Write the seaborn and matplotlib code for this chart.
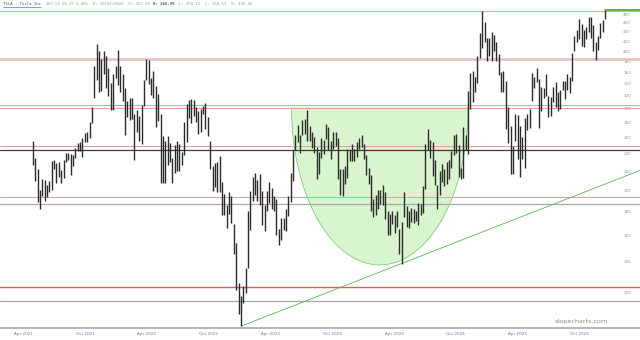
import matplotlib
matplotlib.use('Agg')
import matplotlib.pyplot as plt
import matplotlib.dates as mdates
import seaborn as sns
import numpy as np
import pandas as pd

# ---------------- data (weekly ranges) ----------------
first_week = '2021-04-26'
week_high = [
    # 2021 (from Apr 26)
    255, 235, 222, 200, 212, 211, 205, 209, 231, 233, 229, 230, 221, 233, 241, 241, 240, 239,
    247, 253, 254, 259, 266, 268, 281, 303, 372, 414.5, 400, 385, 400, 391, 367, 342, 357, 372,
    # 2022
    403, 371, 357, 333, 312, 316, 316, 292, 298, 289, 306, 347, 384, 383, 350, 362, 336, 323,
    293, 262, 255, 262, 253, 235, 250, 255, 252, 242, 281, 307, 313, 315, 314, 302, 297, 300,
    305, 309, 288, 255, 226, 229, 230, 237, 208, 196, 186, 198, 194, 169, 154, 126,
    # 2023
    118, 124, 136, 180, 199, 214, 218, 211, 217, 199, 186, 199, 208, 202, 194, 192, 165, 174,
    174, 182, 194, 218, 245, 263, 277, 264, 284, 285, 299, 276, 267, 261, 248, 242, 260, 257,
    278, 274, 255, 268, 268, 259, 222, 222, 226, 246, 244, 252, 246, 254, 259, 264,
    # 2024
    252, 238, 223, 216, 192, 195, 200, 200, 205, 198, 180, 178, 180, 177, 180, 165, 171, 198,
    185, 180, 183, 182, 180, 188, 187, 204, 252, 271, 257, 254, 233, 205, 220, 228, 222, 230,
    232, 243, 263, 265, 250, 223, 274, 263, 328, 358, 362, 352, 390, 437, 488.5, 462, 427,
    # 2025
    426, 440, 433, 419, 394, 361, 362, 345, 303, 275, 249, 292, 291, 275, 261, 287, 293, 300,
    359, 351, 367, 348, 335, 332, 356, 319, 318, 335, 343, 326, 330, 345, 345, 357, 352, 396,
    430, 445, 470, 457, 445, 450, 474, 474, 455, 418, 432, 460, 467, 491,
]
week_low = [
    # 2021
    227, 209, 189, 182, 194, 190, 193, 198, 200, 222, 207, 214, 207, 213, 230, 233, 216, 226,
    235, 243, 243, 236, 254, 254, 260, 280, 317, 347, 326, 328, 357, 333, 319, 299, 298, 350,
    # 2022
    337, 327, 312, 264, 288, 284, 285, 233, 267, 255, 252, 305, 347, 340, 321, 317, 274, 283,
    207, 207, 207, 227, 230, 207, 218, 220, 220, 227, 239, 254, 287, 280, 290, 281, 265, 268,
    292, 272, 262, 222, 199, 203, 198, 198, 177, 177, 166, 178, 170, 146, 122, 108,
    # 2023
    101.8, 114, 120, 136, 164, 190, 195, 190, 186, 168, 163, 180, 188, 182, 180, 160, 152, 156,
    164, 163, 176, 189, 210, 244, 254, 241, 264, 265, 255, 255, 247, 241, 212, 217, 235, 240,
    258, 244, 234, 246, 249, 212, 195, 194, 206, 213, 231, 231, 231, 236, 246, 248,
    # 2024
    234, 216, 206, 180, 175, 177, 182, 187, 186, 173, 160, 160, 169, 162, 167, 146, 138.8, 175,
    167, 166, 171, 170, 172, 168, 177, 179, 201, 244, 235, 215, 205, 182, 195, 208, 204, 206,
    212, 224, 238, 241, 214, 212, 213, 245, 240, 300, 311, 326, 342, 386, 406, 418, 380,
    # 2025
    390, 380, 400, 380, 355, 326, 326, 272, 253, 217, 217, 256, 234, 214, 234, 223, 270, 273,
    312, 332, 343, 273, 297, 316, 320, 288, 290, 310, 302, 297, 300, 329, 315, 330, 325, 344,
    400, 419, 425, 411, 408, 425, 439, 427, 400, 382, 403, 426, 439, 470,
]
last_close = 489.88

# horizontal levels (prices)
red_levels = [488.5, 305.7, 301.6, 249.6, 193.5]
band_levels = [385.0]
strong_red_levels = [123.6]
dark_levels = [244.0]
gray_levels = [186.8, 115.3]

# trend line anchors (two lows)
trend_dates = ['2023-01-06', '2024-04-22']
trend_prices = [101.81, 138.80]

# cup annotation
cup_left, cup_right = '2023-06-03', '2024-11-06'
cup_top, cup_bottom = 301.0, 138.0

y_ticks = list(range(120, 481, 20))
x_tick_dates = ['2021-04-01', '2021-10-01', '2022-04-01', '2022-10-01', '2023-04-01',
                '2023-10-01', '2024-04-01', '2024-10-01', '2025-04-01', '2025-10-01']

# ---------------- drawing ----------------
sns.set_theme(style='white')
plt.rcParams['font.family'] = ['DejaVu Sans']

fig = plt.figure(figsize=(6.4, 3.4), dpi=100)
fig.patch.set_facecolor('white')
ax = fig.add_axes([0, 12 / 340, 1, 320 / 340])
ax.set_facecolor('white')

dates = pd.date_range(first_week, periods=len(week_high), freq='7D') + pd.Timedelta(days=2)
df = pd.DataFrame({'date': dates, 'high': week_high, 'low': week_low})

ax.set_yscale('log')
ax.vlines(df['date'], df['low'], df['high'], color='#2b2b2b', lw=1.0, zorder=4)

xmin = mdates.date2num(pd.Timestamp('2021-01-21'))
xmax = mdates.date2num(pd.Timestamp('2026-03-30'))

# cup (half ellipse in log space)
c0 = mdates.date2num(pd.Timestamp(cup_left))
c1 = mdates.date2num(pd.Timestamp(cup_right))
t = np.linspace(np.pi, 2 * np.pi, 300)
xc = (c0 + c1) / 2 + (c1 - c0) / 2 * np.cos(t)
lt, lb = np.log10(cup_top), np.log10(cup_bottom)
yc = 10 ** (lt + (lt - lb) * np.sin(t))
ax.fill(np.r_[xc, xc[0]], np.r_[yc, yc[0]], facecolor='#d8f5cf', edgecolor='#7ccf74',
        lw=0.6, zorder=1)

# levels
for p in red_levels:
    ax.axhline(p, color='#e8a0a0', lw=0.75, zorder=2)
for p in band_levels:
    ax.axhline(p, color='#e6c0c4', lw=1.9, zorder=2)
for p in strong_red_levels:
    ax.axhline(p, color='#e45a5a', lw=1.0, zorder=2)
for p in dark_levels:
    ax.axhline(p, color='#3a3a3a', lw=0.9, zorder=2)
for p in gray_levels:
    ax.axhline(p, color='#a8a8a8', lw=0.9, zorder=2)

# trend line from the low to the right edge
td = [mdates.date2num(pd.Timestamp(d)) for d in trend_dates]
slope = (np.log(trend_prices[1]) - np.log(trend_prices[0])) / (td[1] - td[0])
end_price = trend_prices[0] * np.exp(slope * (xmax - td[0]))
sns.lineplot(x=[td[0], xmax], y=[trend_prices[0], end_price], ax=ax, color='#5fb35a',
             lw=0.6, zorder=3)

# last price line
ax.plot([mdates.date2num(dates[-1]), xmax], [last_close, last_close], color='#6aaa3a',
        lw=1.4, zorder=5)

ax.set_xlim(xmin, xmax)
ax.set_ylim(100.8, 495.5)

# y axis on right, labels inside
ax.yaxis.tick_right()
ax.yaxis.set_major_locator(matplotlib.ticker.FixedLocator(y_ticks))
ax.yaxis.set_minor_locator(matplotlib.ticker.NullLocator())
ax.set_yticklabels([str(v) for v in y_ticks])
ax.tick_params(axis='y', length=0, pad=-12, labelsize=3, labelcolor='#999999')

xt = [mdates.date2num(pd.Timestamp(d)) for d in x_tick_dates]
ax.set_xticks(xt)
ax.set_xticklabels([pd.Timestamp(d).strftime('%b %Y') for d in x_tick_dates])
ax.tick_params(axis='x', length=0, pad=3, labelsize=3, labelcolor='#6d78a8')

for s in ['top', 'left', 'right']:
    ax.spines[s].set_visible(False)
ax.spines['bottom'].set_color('#b0b0b0')
ax.spines['bottom'].set_linewidth(1.3)
ax.grid(False)
ax.set_xlabel('')
ax.set_ylabel('')

# watermark
ax.text(0.95, 0.012, 'slopecharts.com', transform=ax.transAxes, ha='right', va='bottom',
        fontsize=4.6, color='#8a8a8a', zorder=6)

# header
segments = [
    ('TSLA - Tesla Inc', '#3a4fb0', 'normal'),
    ('  487.55 ', '#9a9a9a', 'normal'),
    ('20.37 4.46%', '#6db36a', 'normal'),
    ('  D: 10/04/2022  O: 263.50 ', '#9a9a9a', 'normal'),
    ('H: 268.99', '#555555', 'bold'),
    ('  L: 258.72  C: 260.51  V: 496.45', '#9a9a9a', 'normal'),
]
renderer = fig.canvas.get_renderer()
xpos = 3 / 640
ypos = 1 - 4 / 340
for i, (txt, col, wt) in enumerate(segments):
    tt = fig.text(xpos, ypos, txt, fontsize=2.9, color=col, fontweight=wt,
                  family='DejaVu Sans Mono', ha='left', va='center')
    bb = tt.get_window_extent(renderer=renderer)
    if i == 0:
        fig.add_artist(plt.Line2D([xpos, xpos + bb.width / 640], [ypos - 2.6 / 340] * 2,
                                  color=col, lw=0.4))
    xpos += bb.width / 640

fig.savefig('out.png', dpi=100, facecolor='white')
